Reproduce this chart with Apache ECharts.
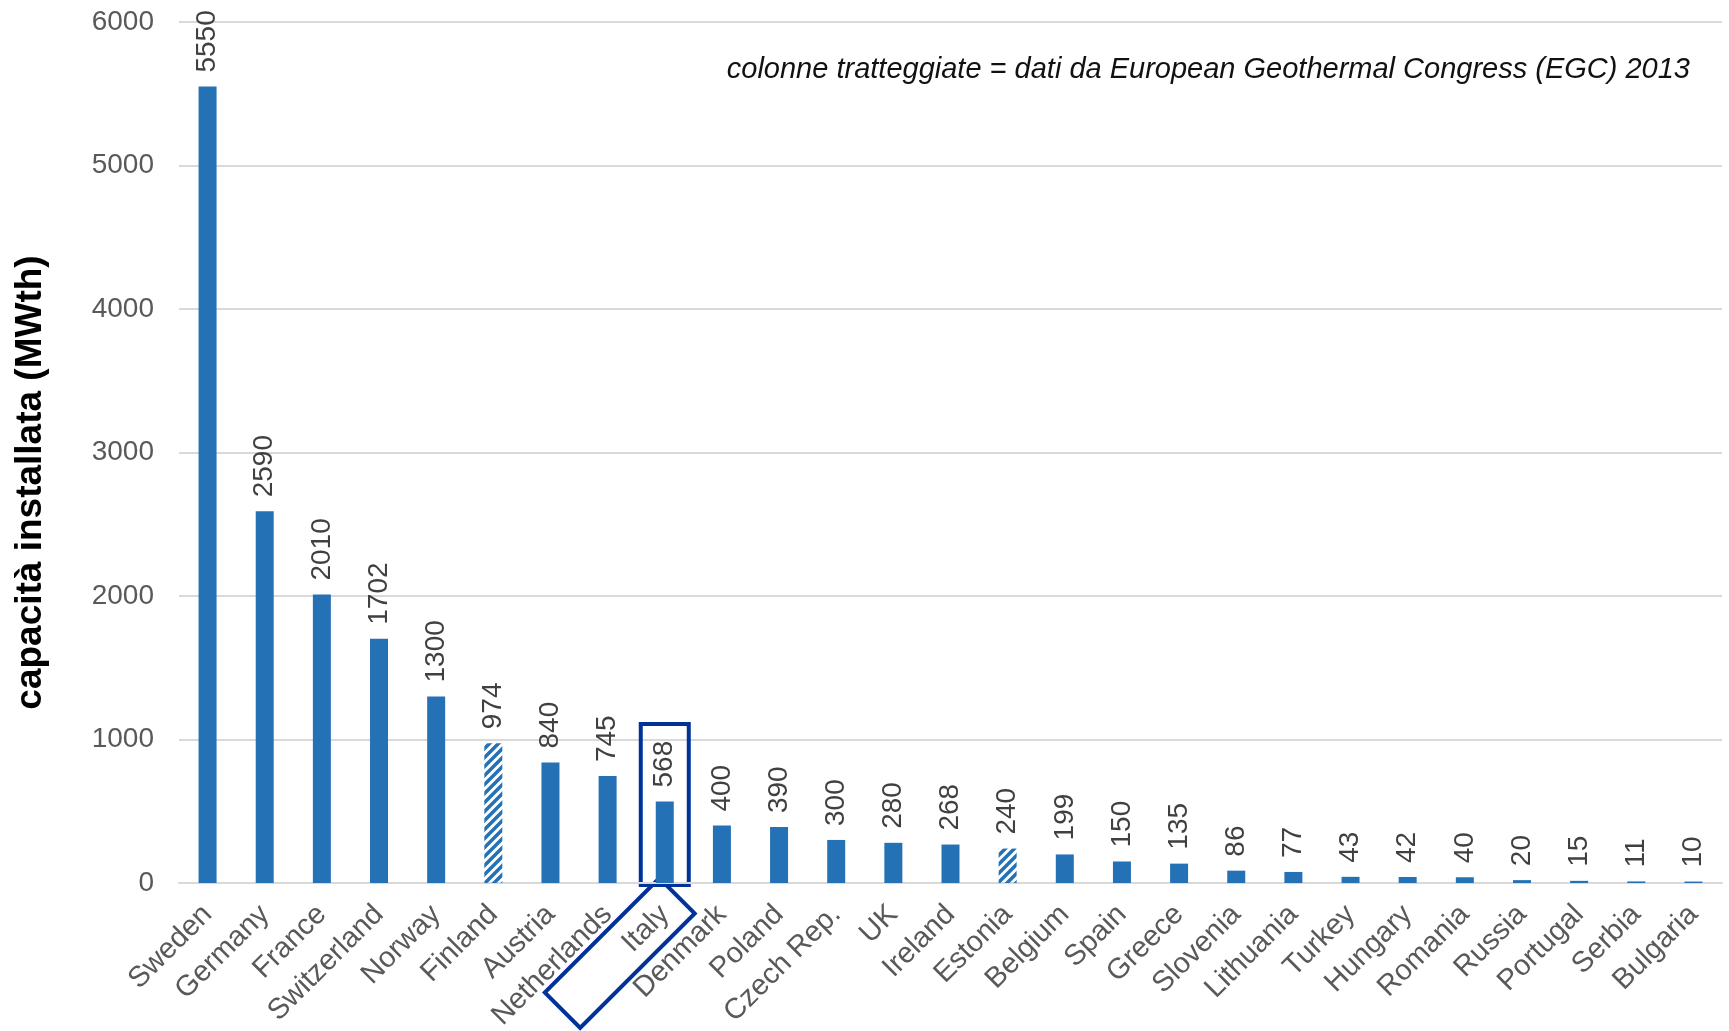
<!DOCTYPE html>
<html>
<head>
<meta charset="utf-8">
<script src="https://cdn.jsdelivr.net/npm/echarts@6/dist/echarts.min.js"></script>
<style>
  html, body { margin: 0; padding: 0; background: #fff; }
  #chart { width: 1729px; height: 1031px; }
</style>
</head>
<body>
<div id="chart"></div>
<script>
var countries = ["Sweden", "Germany", "France", "Switzerland", "Norway", "Finland", "Austria",
  "Netherlands", "Italy", "Denmark", "Poland", "Czech Rep.", "UK", "Ireland", "Estonia",
  "Belgium", "Spain", "Greece", "Slovenia", "Lithuania", "Turkey", "Hungary", "Romania",
  "Russia", "Portugal", "Serbia", "Bulgaria"];
var capacity = [5550, 2590, 2010, 1702, 1300, 974, 840, 745, 568, 400, 390, 300, 280, 268, 240,
  199, 150, 135, 86, 77, 43, 42, 40, 20, 15, 11, 10];
// columns from EGC 2013 (drawn hatched)
var egcCountries = ["Finland", "Estonia"];
var highlighted = "Italy";
var yTicks = [0, 1000, 2000, 3000, 4000, 5000, 6000];

var blue = "#2571b5";
var frameBlue = "#003399";
var font = "Liberation Sans, Arial, sans-serif";

// diagonal stripe pattern for the hatched columns
function stripes() {
  var c = document.createElement("canvas");
  var s = 9;
  c.width = s; c.height = s;
  var ctx = c.getContext("2d");
  ctx.strokeStyle = blue;
  ctx.lineWidth = 3.5;
  ctx.beginPath();
  ctx.moveTo(-2, s + 2); ctx.lineTo(s + 2, -2);
  ctx.moveTo(-2, 2); ctx.lineTo(2, -2);
  ctx.moveTo(s - 2, s + 2); ctx.lineTo(s + 2, s - 2);
  ctx.stroke();
  return c;
}
var hatch = { image: stripes(), repeat: "repeat" };

var barData = countries.map(function (name, i) {
  return {
    value: capacity[i],
    itemStyle: { color: egcCountries.indexOf(name) >= 0 ? hatch : blue }
  };
});

var chart = echarts.init(document.getElementById("chart"));
chart.setOption({
  animation: false,
  grid: { left: 179, right: 7, top: 22, bottom: 148, outerBoundsMode: "none" },
  title: {
    text: "colonne tratteggiate = dati da European Geothermal Congress (EGC) 2013",
    right: 34, top: 50,
    textStyle: { fontFamily: font, fontStyle: "italic", fontWeight: "normal", fontSize: 29, color: "#111" }
  },
  xAxis: {
    type: "category",
    data: countries,
    axisLine: { lineStyle: { color: "#d9d9d9", width: 2 } },
    axisTick: { show: false },
    axisLabel: {
      interval: 0, rotate: 45, margin: 27,
      fontFamily: font, fontSize: 29, color: "#595959"
    }
  },
  yAxis: {
    type: "value",
    min: yTicks[0], max: yTicks[yTicks.length - 1], interval: 1000,
    name: "capacità installata (MWth)",
    nameLocation: "middle",
    nameGap: 130,
    nameTextStyle: {
      fontFamily: font, fontWeight: "bold", fontSize: 37, color: "#000",
      padding: [0, 60, 0, 0]
    },
    axisLine: { show: false },
    axisTick: { show: false },
    splitLine: { lineStyle: { color: "#d9d9d9", width: 2 } },
    axisLabel: {
      margin: 25, fontFamily: font, fontSize: 28, color: "#595959",
      formatter: function (v) { return String(v); }
    }
  },
  series: [{
    type: "bar",
    barWidth: 18,
    data: barData,
    label: {
      show: true, position: "top", rotate: 90, align: "left", verticalAlign: "middle",
      distance: 14, fontFamily: font, fontSize: 28, color: "#404040"
    }
  }]
});

// frames around Italy: one round the column, one round the axis label
var idx = countries.indexOf(highlighted);
var basePt = chart.convertToPixel({ xAxisIndex: 0, yAxisIndex: 0 }, [idx, 0]);
var topPt = chart.convertToPixel({ xAxisIndex: 0, yAxisIndex: 0 }, [idx, 1108]);
chart.setOption({
  graphic: [
    {
      type: "rect",
      shape: { x: basePt[0] - 24, y: topPt[1], width: 48, height: basePt[1] - topPt[1] + 2 },
      style: { fill: "none", stroke: frameBlue, lineWidth: 4 }
    },
    {
      type: "rect",
      x: basePt[0] - 45, y: basePt[1] + 70,
      rotation: Math.PI / 4,
      shape: { x: -81, y: -25, width: 162, height: 50 },
      style: { fill: "none", stroke: frameBlue, lineWidth: 4 }
    }
  ]
});
</script>
</body>
</html>
